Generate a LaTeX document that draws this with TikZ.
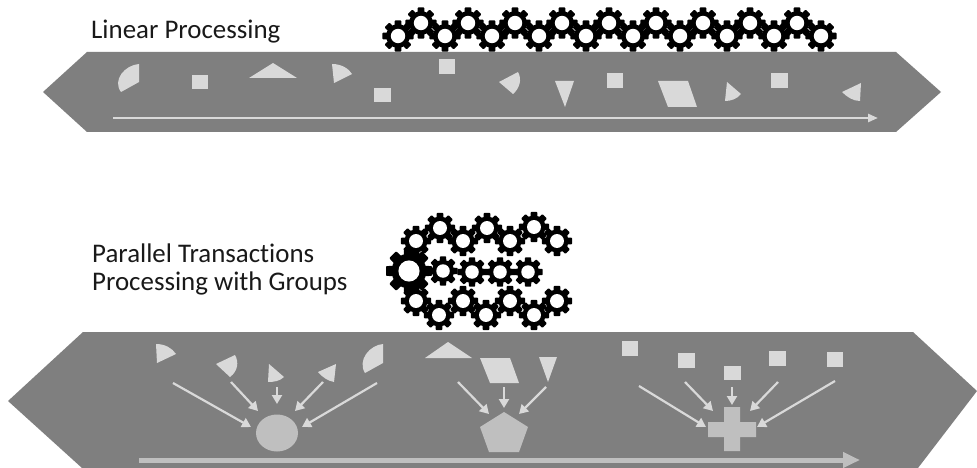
\documentclass[tikz,border=0pt]{standalone}
\usepackage{fontspec}
\setmainfont[Ligatures=NoCommon]{Carlito}
\usetikzlibrary{arrows.meta}
\definecolor{bandgrey}{HTML}{7F7F7F}
\definecolor{piecegrey}{HTML}{D9D9D9}
\definecolor{mergegrey}{HTML}{BFBFBF}
\tikzset{
  band/.style={fill=bandgrey},
  piece/.style={fill=piecegrey},
  merged/.style={fill=mergegrey},
  flow/.style={draw=piecegrey,line width=2.2pt,-{Triangle[length=9pt,width=10pt]}},
  timeline/.style={draw=piecegrey,line width=2.6pt,-{Triangle[length=10pt,width=8pt]}},
  bigtimeline/.style={draw=mergegrey,line width=5pt,-{Triangle[length=17pt,width=15pt]}},
  caption/.style={anchor=base west,inner sep=0pt,font=\fontsize{26.9}{28}\selectfont,text=black!90},
}
\newcommand{\gearat}[3]{%
  \begin{scope}[shift={(#1,#2)}]
    \fill[black] (0,0) circle[radius=0.74*#3];
    \foreach \a in {0,45,...,315}{
      \fill[black,rounded corners=0.8pt] ({\a-19}:{0.68*#3}) -- ({\a-12}:{#3}) -- ({\a+12}:{#3}) -- ({\a+19}:{0.68*#3}) -- cycle;
    }
    \fill[white] (0,0) circle[radius=0.45*#3];
  \end{scope}}
\newcommand{\sq}[4]{\fill[piece] (#1,#2) rectangle (#3,#4);}
\begin{document}
\begin{tikzpicture}[x=1pt,y=-1pt]
\useasboundingbox (0,0) rectangle (977,468);
\fill[white] (0,0) rectangle (977,468);

% captions
\node[caption] (linear) at (91,38.5) {Linear Processing};
\node[caption] (par1) at (92,262) {Parallel Transactions};
\node[caption] (par2) at (92,290) {Processing with Groups};

% bands
\fill[band] (87,52) -- (896,52) -- (941,92) -- (896,132) -- (87,132) -- (43,92) -- cycle;
\fill[band] (83,332) -- (913,332) -- (977,391) -- (918,468) -- (82,468) -- (8,401) -- cycle;

% linear gears
\foreach \x in {398,445,...,822}{\gearat{\x}{36}{16}}
\foreach \x in {421,468,...,798}{\gearat{\x}{23}{16}}

% group gears
\foreach \x/\y in {416/241,440/228,463/241,487/228,510/241,534/227,557/241,
                   416/301,439/315,463/301,486/315,510/301,534/315,557/301}{\gearat{\x}{\y}{15.5}}
\foreach \x/\y in {443/271,472/272,500/272,528/272}{\gearat{\x}{\y}{15}}
\gearat{409}{271}{23.5}

% linear pieces
\fill[piece] (139,64) .. controls (125,65) and (112,80) .. (121,92) -- (139,82) -- cycle;
\sq{192}{75}{208}{89}
\fill[piece] (249,78) -- (273,63) -- (297,78) -- cycle;
\fill[piece] (332,64) .. controls (342,64) and (349,69) .. (352,74) -- (334,83) -- cycle;
\sq{374}{88}{391}{102}
\sq{439}{59}{455}{74}
\fill[piece] (518,72) .. controls (522,79) and (520,88) .. (513,94) -- (499,82) -- cycle;
\fill[piece] (555,81) -- (574,81) -- (565,107) -- cycle;
\sq{607}{73}{623}{88}
\fill[piece] (658,81) -- (688,81) -- (697,107) -- (668,107) -- cycle;
\fill[piece] (741,94) .. controls (737,99) and (731,101) .. (725,101) -- (727,82) -- cycle;
\sq{771}{73}{788}{88}
\fill[piece] (842,92) .. controls (847,97) and (853,101) .. (860,101) -- (861,83) -- cycle;

\coordinate (lineStart) at (113,118);
\coordinate (lineEnd) at (878,118);
\draw[timeline] (lineStart) -- (lineEnd);

% group pieces: first group
\fill[piece] (156,344) .. controls (165,344) and (172,348) .. (176,354) -- (157,363) -- cycle;
\fill[piece] (235,355) .. controls (239,362) and (238,371) .. (230,377) -- (216,364) -- cycle;
\fill[piece] (284,377) .. controls (280,381) and (274,382) .. (268,382) -- (269,364) -- cycle;
\fill[piece] (318,372) .. controls (322,377) and (328,381) .. (334,382) -- (336,364) -- cycle;
\fill[piece] (383,344) .. controls (370,345) and (357,360) .. (365,373) -- (383,363) -- cycle;
\fill[merged] (277,433) ellipse[x radius=21,y radius=18.5];

% second group
\fill[piece] (425,358) -- (448,342) -- (472,358) -- cycle;
\fill[piece] (480,358) -- (510,358) -- (519,383) -- (490,383) -- cycle;
\fill[piece] (539,357) -- (557,357) -- (548,382) -- cycle;
\fill[merged] (504,412) -- (528,427) -- (519,452) -- (489,452) -- (480,427) -- cycle;

% third group
\sq{622}{341}{638}{356}
\sq{678}{353}{695}{368}
\sq{724}{366}{741}{380}
\sq{769}{351}{786}{366}
\sq{827}{352}{843}{367}
\fill[merged] (724,407) rectangle (740,422) (708,422) rectangle (756,437) (724,437) rectangle (740,451);

% merge arrows
\foreach \n/\sx/\sy/\ex/\ey in {
  a/173/383/251/427, b/231/382/258/411, c/277/387/277/404, d/323/382/295/411, e/377/383/302/427,
  f/458/382/489/414, g/504/387/504/408, h/546/387/519/414,
  i/639/386/706/427, j/685/382/713/411, k/732/387/732/405, l/778/382/750/411, m/835/381/757/427}{
  \coordinate (\n s) at (\sx,\sy);
  \coordinate (\n e) at (\ex,\ey);
  \draw[flow] (\n s) -- (\n e);
}

\coordinate (bigStart) at (139,460);
\coordinate (bigEnd) at (860,460);
\draw[bigtimeline] (bigStart) -- (bigEnd);
\end{tikzpicture}
\end{document}
